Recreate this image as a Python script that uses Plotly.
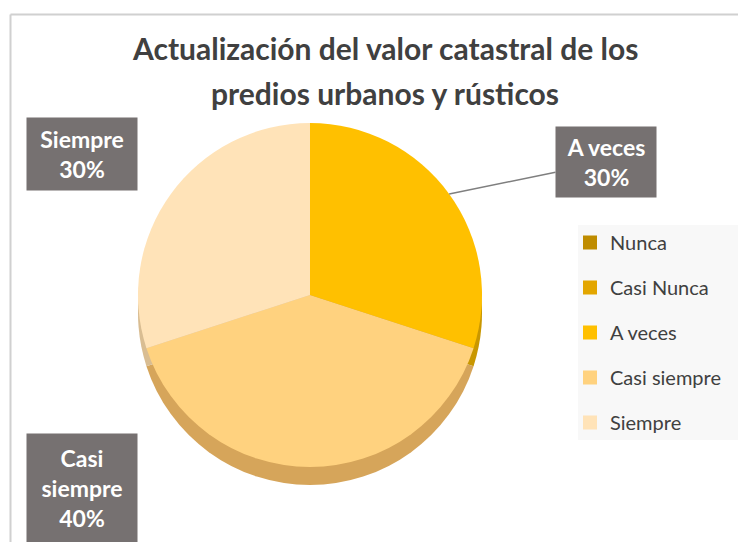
import math
import plotly.graph_objects as go

# ---------------- data ----------------
TITLE_LINES = ["Actualización del valor catastral de los", "predios urbanos y rústicos"]
CATEGORIES = ["Nunca", "Casi Nunca", "A veces", "Casi siempre", "Siempre"]
VALUES = [0, 0, 30, 40, 30]
COLORS = ["#BF8C00", "#E3A600", "#FFC000", "#FFD27F", "#FFE3B8"]
SIDE_COLORS = ["#9C7300", "#B98800", "#C99700", "#D6A55A", "#D9BD92"]

W, H = 746, 542
OFF = 8  # page body margin


def px(x):
    return (x - OFF) / W


def py(y):
    return 1 - (y - OFF) / H


# pie geometry (target page pixels)
CX, CY, R = 310, 295, 172
DEPTH = 18

fig = go.Figure()

# side / thickness layer
fig.add_trace(go.Pie(
    labels=CATEGORIES, values=VALUES, sort=False, direction="clockwise", rotation=0,
    marker=dict(colors=SIDE_COLORS, line=dict(width=0)),
    textinfo="none", hoverinfo="skip", showlegend=False,
    domain=dict(x=[px(CX - R), px(CX + R)], y=[py(CY + DEPTH + R), py(CY + DEPTH - R)]),
))
# top face
fig.add_trace(go.Pie(
    labels=CATEGORIES, values=VALUES, sort=False, direction="clockwise", rotation=0,
    marker=dict(colors=COLORS, line=dict(width=0)),
    textinfo="none", showlegend=False,
    domain=dict(x=[px(CX - R), px(CX + R)], y=[py(CY + R), py(CY - R)]),
))

# legend entries
for cat, col in zip(CATEGORIES, COLORS):
    fig.add_trace(go.Scatter(
        x=[None], y=[None], mode="markers", name=cat, legendgroup=cat,
        marker=dict(symbol="square", size=14, color=col),
    ))

total = sum(VALUES)
pct = {c: round(v / total * 100) for c, v in zip(CATEGORIES, VALUES)}

label_font = dict(family="Lato, 'Open Sans', sans-serif", size=23, color="white")
BOX = "#767171"

annotations = []
# title
for i, line in enumerate(TITLE_LINES):
    annotations.append(dict(
        text=f"<b>{line}</b>", x=px(385), y=py(48 + 45 * i), xref="paper", yref="paper",
        showarrow=False, xanchor="center", yanchor="middle",
        font=dict(family="Lato, 'Open Sans', sans-serif", size=30, color="#404040"),
    ))

# mid angle of each slice (clockwise from 12 o'clock)
cum = 0
mid_angle = {}
for c, v in zip(CATEGORIES, VALUES):
    mid_angle[c] = (cum + v / 2) / total * 2 * math.pi
    cum += v

a = mid_angle["A veces"]
tx, ty = CX + R * math.sin(a), CY - R * math.cos(a)
annotations.append(dict(
    text=f"<b>A veces<br>{pct['A veces']}%</b>", x=px(tx), y=py(ty), xref="paper", yref="paper",
    showarrow=True, arrowhead=0, arrowwidth=1.5, arrowcolor="#7F7F7F",
    ax=606 - tx, ay=162 - ty, bgcolor=BOX, width=96, height=66, borderpad=2,
    font=label_font, align="center",
))
annotations.append(dict(
    text=f"<b>Siempre<br>{pct['Siempre']}%</b>", x=px(82), y=py(154), xref="paper", yref="paper",
    showarrow=False, xanchor="center", yanchor="middle",
    bgcolor=BOX, width=106, height=68, borderpad=2,
    font=label_font, align="center",
))
annotations.append(dict(
    text=f"<b>Casi<br>siempre<br>{pct['Casi siempre']}%</b>", x=px(82), y=py(488), xref="paper", yref="paper",
    showarrow=False, xanchor="center", yanchor="middle",
    bgcolor=BOX, width=106, height=104, borderpad=2,
    font=label_font, align="center",
))

shapes = [
    # legend background
    dict(type="rect", xref="paper", yref="paper", x0=px(578), x1=px(760), y0=py(440), y1=py(225),
         fillcolor="#F8F8F8", line=dict(width=0), layer="below"),
    # chart border
    dict(type="line", xref="paper", yref="paper", x0=px(10.5), x1=px(760), y0=py(14.5), y1=py(14.5),
         line=dict(color="#D0D0D0", width=2)),
    dict(type="line", xref="paper", yref="paper", x0=px(10.5), x1=px(10.5), y0=py(14.5), y1=py(560),
         line=dict(color="#D0D0D0", width=2)),
]

fig.update_layout(
    width=W, height=H,
    margin=dict(l=0, r=0, t=0, b=0),
    paper_bgcolor="white", plot_bgcolor="rgba(0,0,0,0)",
    xaxis=dict(visible=False), yaxis=dict(visible=False),
    annotations=annotations, shapes=shapes,
    legend=dict(
        x=px(570), y=py(223), xanchor="left", yanchor="top",
        bgcolor="rgba(0,0,0,0)", tracegroupgap=16,
        font=dict(family="Lato, 'Open Sans', sans-serif", size=20, color="#404040"),
    ),
    showlegend=True,
)

fig.write_html("out.html")
